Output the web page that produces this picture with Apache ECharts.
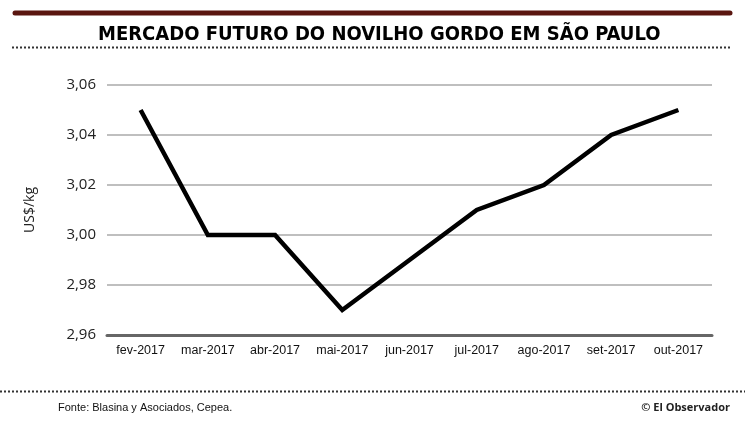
<!DOCTYPE html>
<html><head><meta charset="utf-8">
<script src="https://cdn.jsdelivr.net/npm/echarts@6/dist/echarts.min.js"></script>
<style>html,body{margin:0;padding:0;background:#fff}#c{width:745px;height:427px}</style>
</head><body><div id="c"></div>
<script>
var categories = ['fev-2017','mar-2017','abr-2017','mai-2017','jun-2017','jul-2017','ago-2017','set-2017','out-2017'];
var values = [3.05, 3.00, 3.00, 2.97, 2.99, 3.01, 3.02, 3.04, 3.05];
var yTicks = { min: 2.96, max: 3.06, interval: 0.02 };

var chart = echarts.init(document.getElementById('c'), null, {renderer:'canvas'});
chart.setOption({
  backgroundColor:'#fff',
  animation:false,
  title:{
    text:'MERCADO FUTURO DO NOVILHO GORDO EM SÃO PAULO',
    left:93, top:20,
    textStyle:{fontFamily:'DejaVu Sans Condensed, Liberation Sans Narrow, Liberation Sans', fontWeight:'bold', fontSize:20, color:'#000'}
  },
  grid:{left:107, right:33, top:85, bottom:92},
  xAxis:{
    type:'category', data:categories, boundaryGap:true,
    axisLine:{show:true, lineStyle:{color:'#666', width:3}},
    axisTick:{show:false},
    axisLabel:{interval:0, fontFamily:'Liberation Sans, Arial', fontSize:12.5, color:'#111', margin:9}
  },
  yAxis:{
    type:'value', min:yTicks.min, max:yTicks.max, interval:yTicks.interval,
    name:'US$/kg', nameLocation:'middle', nameGap:70, nameRotate:90,
    nameTextStyle:{fontFamily:'Open Sans', fontSize:14, color:'#222'},
    axisLine:{show:false}, axisTick:{show:false},
    axisLabel:{fontFamily:'Open Sans', fontSize:15, color:'#222', margin:11,
      formatter:function(v){return v.toFixed(2).replace('.',',');}},
    splitLine:{lineStyle:{color:'#aaa', width:1.5}}
  },
  series:[{
    type:'line', data:values, symbol:'none',
    lineStyle:{color:'#000', width:4.5, join:'miter'}
  }],
  graphic:[
    {type:'line', shape:{x1:15,y1:13,x2:730,y2:13}, style:{stroke:'#5a1610', lineWidth:5, lineCap:'round'}},
    {type:'line', shape:{x1:12,y1:47.5,x2:731,y2:47.5}, style:{stroke:'#333', lineWidth:2, lineDash:[2,2]}},
    {type:'line', shape:{x1:0,y1:391.5,x2:745,y2:391.5}, style:{stroke:'#333', lineWidth:2, lineDash:[2,2]}},
    {type:'text', left:58, top:402, style:{text:'Fonte: Blasina y Asociados, Cepea.', font:'11px "Liberation Sans", Arial', fill:'#111'}},
    {type:'text', right:15, top:402, style:{text:'© El Observador', font:'bold 11px "Open Sans", Arial', fill:'#222'}}
  ]
});
</script></body></html>
